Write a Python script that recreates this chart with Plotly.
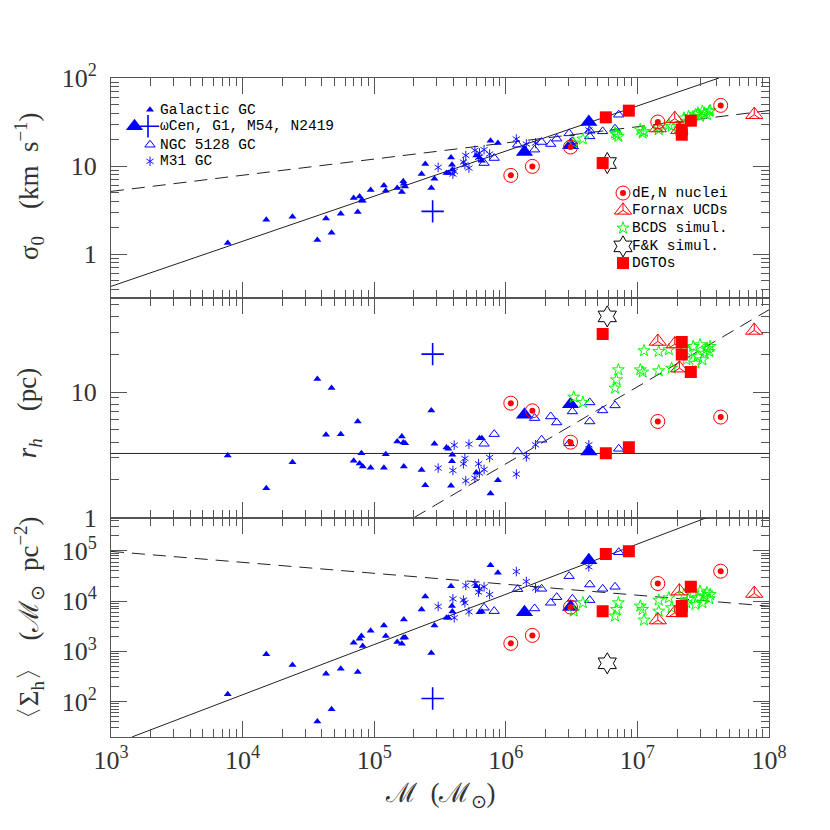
import numpy as np
import plotly.graph_objects as go

# ---------------- data (log10 values) ----------------
# Galactic globular clusters
gc_logM = [3.887, 4.180, 4.379, 4.568, 4.634, 4.676, 4.746, 4.844, 4.875, 4.889, 4.903, 4.913, 4.973, 5.074, 5.088,
           5.175, 5.210, 5.221, 5.235, 5.225, 5.360, 5.388, 5.434, 5.458, 5.549, 5.563, 5.584, 5.591, 5.594, 5.776,
           5.800, 5.818, 5.884, 5.940]
gc_logsig = [0.125, 0.390, 0.424, 0.159, 0.405, 0.242, 0.458, 0.636, 0.477, 0.655, 0.610, 0.606, 0.727, 0.780, 0.720,
             0.750, 0.705, 0.826, 0.769, 0.800, 0.909, 1.023, 0.750, 0.856, 0.920, 0.920, 1.098, 1.015, 0.958, 1.120,
             1.098, 1.061, 1.288, 1.261]
gc_logrh = [0.495, 0.234, 0.441, 1.104, 0.660, 1.032, 0.665, 0.452, 0.766, 0.431, 0.513, 0.407, 0.396, 0.396, 0.505,
            0.606, 0.646, 0.598, 0.593, 0.407, 0.378, 0.258, 0.854, 0.588, 0.559, 0.548, 0.253, 0.449, 0.500, 0.359,
            0.633, 0.633, 0.191, 0.298]
gc_logSig = [2.146, 2.940, 2.728, 1.603, 2.556, 1.848, 2.656, 3.172, 2.589, 3.252, 3.305, 3.106, 3.411, 3.517, 3.305,
             3.185, 3.152, 3.272, 3.278, 3.636, 3.834, 4.093, 2.967, 3.517, 3.669, 3.669, 4.298, 3.901, 3.795, 4.298,
             3.781, 3.788, 4.715, 4.563]

# omega Cen, G1, M54 (big triangles)
big_logM = [6.142, 6.492, 6.631]
big_logsig = [1.159, 1.235, 1.500]
big_logrh = [0.819, 0.904, 0.527]
big_logSig = [3.781, 3.881, 4.815]
# NGC 2419 (cross)
n2419_logM = [5.444]
n2419_logsig = [0.485]
n2419_logrh = [1.303]
n2419_logSig = [2.060]

# NGC 5128 GCs
n5128_logM = [5.835, 5.912, 6.090, 6.219, 6.272, 6.341, 6.387, 6.481, 6.506, 6.638, 6.638, 6.736, 6.830, 6.858]
n5128_logsig = [1.034, 1.091, 1.242, 1.186, 1.273, 1.250, 1.311, 1.371, 1.280, 1.337, 1.400, 1.394, 1.424, 1.583]
n5128_logrh = [0.588, 0.665, 0.527, 0.793, 0.620, 0.806, 0.758, 0.591, 0.846, 0.918, 0.766, 0.854, 0.894, 0.548]
n5128_logSig = [3.868, 3.801, 4.238, 3.854, 4.245, 3.967, 4.079, 4.497, 4.046, 4.020, 4.331, 4.245, 4.285, 4.974]

# M31 GCs
m31_logM = [5.486, 5.598, 5.608, 5.678, 5.689, 5.696, 5.720, 5.765, 5.793, 5.800, 5.835, 5.877, 6.080, 6.156, 6.226, 6.631]
m31_logsig = [0.985, 0.909, 0.939, 1.045, 1.015, 1.121, 0.977, 1.178, 1.098, 1.148, 1.186, 1.136, 1.307, 1.250, 1.261, 1.410]
m31_logrh = [0.394, 0.375, 0.577, 0.428, 0.471, 0.293, 0.585, 0.314, 0.428, 0.354, 0.383, 0.479, 0.346, 0.484, 0.580, 0.580]
m31_logSig = [3.894, 4.046, 3.669, 4.020, 3.967, 4.311, 3.788, 4.351, 4.179, 4.245, 4.285, 4.132, 4.589, 4.391, 4.258, 4.682]

# dE,N nuclei
den_logM = [6.038, 6.202, 6.492, 7.155, 7.633]
den_logsig = [0.894, 0.996, 1.216, 1.500, 1.689]
den_logrh = [0.912, 0.851, 0.601, 0.766, 0.801]
den_logSig = [3.159, 3.318, 3.881, 4.351, 4.596]

# Fornax UCDs
ucd_logM = [7.155, 7.284, 7.319, 7.888]
ucd_logsig = [1.432, 1.538, 1.413, 1.583]
ucd_logrh = [1.404, 1.383, 1.191, 1.492]
ucd_logSig = [3.623, 3.768, 4.199, 4.152]

# BCDS simulations
bcds_logM = [6.516, 6.586, 6.830, 6.841, 6.855, 7.022, 7.040, 7.050, 7.162, 7.162, 7.239, 7.260, 7.354, 7.372, 7.389,
             7.424, 7.441, 7.459, 7.476, 7.494, 7.511, 7.529, 7.546, 7.553]
bcds_logsig = [1.261, 1.307, 1.375, 1.356, 1.337, 1.413, 1.375, 1.394, 1.439, 1.413, 1.470, 1.451, 1.545, 1.508, 1.564,
               1.545, 1.583, 1.602, 1.564, 1.621, 1.602, 1.583, 1.621, 1.629]
bcds_logrh = [0.960, 0.918, 1.032, 1.098, 1.178, 1.178, 1.160, 1.330, 1.324, 1.170, 1.338, 1.191, 1.351, 1.258, 1.324,
              1.364, 1.231, 1.285, 1.378, 1.258, 1.311, 1.351, 1.324, 1.364]
bcds_logSig = [3.801, 3.967, 3.702, 3.834, 3.967, 3.901, 3.834, 3.623, 3.801, 4.020, 4.066, 3.868, 4.132, 3.967, 4.033,
               4.166, 3.934, 4.066, 4.199, 3.967, 4.099, 4.166, 4.046, 4.132]

# F&K simulation
fk_logM = [6.771]
fk_logsig = [1.034]
fk_logrh = [1.604]
fk_logSig = [2.762]

# DGTOs
dgto_logM = [6.736, 6.760, 6.935, 7.337, 7.337, 7.406]
dgto_logsig = [1.034, 1.553, 1.629, 1.413, 1.356, 1.515]
dgto_logrh = [1.463, 0.513, 0.561, 1.400, 1.300, 1.160]
dgto_logSig = [3.801, 4.940, 4.993, 3.901, 3.801, 4.285]

# reference relations (end points, log10)
sig_solid_logM, sig_solid_logv = [3.0, 7.62], [-0.367, 2.0]
sig_dash_logM, sig_dash_logv = [3.0, 8.0], [0.712, 1.63]
rh_solid_logM, rh_solid_logv = [3.0, 8.0], [0.511, 0.511]
rh_dash_logM, rh_dash_logv = [5.304, 8.0], [0.0, 1.657]
Sig_solid_logM, Sig_solid_logv = [3.16, 7.53], [1.296, 5.666]
Sig_dash_logM, Sig_dash_logv = [3.0, 8.0], [4.99, 3.90]

x_ticks = [1e3, 1e4, 1e5, 1e6, 1e7, 1e8]
x_ticktext = ["10<sup>3</sup>", "10<sup>4</sup>", "10<sup>5</sup>", "10<sup>6</sup>", "10<sup>7</sup>", "10<sup>8</sup>"]
sig_ticks, sig_ticktext = [1, 10, 100], ["1", "10", "10<sup>2</sup>"]
rh_ticks, rh_ticktext = [1, 10], ["1", "10"]
Sig_ticks = [1e2, 1e3, 1e4, 1e5]
Sig_ticktext = ["10<sup>2</sup>", "10<sup>3</sup>", "10<sup>4</sup>", "10<sup>5</sup>"]

# ---------------- figure ----------------
BLUE, RED, GREEN = "#0000ff", "#ff0000", "#00ff00"
fig = go.Figure()
panels = [("x", "y"), ("x2", "y2"), ("x3", "y3")]

M_GC = dict(symbol="triangle-up", size=7, color=BLUE)
M_BIG = dict(symbol="triangle-up", size=15, color=BLUE)
M_CROSS = dict(symbol="cross-thin-open", size=16, color=BLUE, line=dict(color=BLUE, width=1.6))
M_OPEN_TRI = dict(symbol="triangle-up-open", size=9, color=BLUE, line=dict(color=BLUE, width=1))
M_AST_A = dict(symbol="y-up-open", size=6, color=BLUE, line=dict(color=BLUE, width=0.9))
M_AST_B = dict(symbol="y-down-open", size=6, color=BLUE, line=dict(color=BLUE, width=0.9))
M_RING = dict(symbol="circle-open", size=14, color=RED, line=dict(color=RED, width=1))
M_DOT = dict(symbol="circle", size=6, color=RED)
M_UCD = dict(symbol="triangle-up-open", size=15, color=RED, line=dict(color=RED, width=1))
M_UCD_IN = dict(symbol="y-up-open", size=9.4, color=RED, line=dict(color=RED, width=1))
M_BCDS = dict(symbol="star-open", size=9, color=GREEN, line=dict(color=GREEN, width=1))
M_FK = dict(symbol="hexagram-open", size=16, color="black", line=dict(color="black", width=1))
M_DGTO = dict(symbol="square", size=12, color=RED)


def p(v):
    return 10 ** np.asarray(v, dtype=float)


def add_line(xs, ys, panel, dash):
    xa, ya = panels[panel]
    fig.add_trace(go.Scatter(x=p(xs), y=p(ys), mode="lines", xaxis=xa, yaxis=ya,
                             line=dict(color="#222", width=1, dash=dash), hoverinfo="skip"))


add_line(sig_solid_logM, sig_solid_logv, 0, "solid")
add_line(sig_dash_logM, sig_dash_logv, 0, "13px,8px")
add_line(rh_solid_logM, rh_solid_logv, 1, "solid")
add_line(rh_dash_logM, rh_dash_logv, 1, "13px,8px")
add_line(Sig_solid_logM, Sig_solid_logv, 2, "solid")
add_line(Sig_dash_logM, Sig_dash_logv, 2, "13px,8px")


def add_group(logM, vals3, *markers):
    for marker in markers:
        for (xa, ya), v in zip(panels, vals3):
            fig.add_trace(go.Scatter(x=p(logM), y=p(v), mode="markers", xaxis=xa, yaxis=ya,
                                     marker=marker, cliponaxis=True))


add_group(gc_logM, [gc_logsig, gc_logrh, gc_logSig], M_GC)
add_group(m31_logM, [m31_logsig, m31_logrh, m31_logSig], M_AST_A, M_AST_B)
add_group(n5128_logM, [n5128_logsig, n5128_logrh, n5128_logSig], M_OPEN_TRI)
add_group(big_logM, [big_logsig, big_logrh, big_logSig], M_BIG)
add_group(n2419_logM, [n2419_logsig, n2419_logrh, n2419_logSig], M_CROSS)
add_group(bcds_logM, [bcds_logsig, bcds_logrh, bcds_logSig], M_BCDS)
add_group(den_logM, [den_logsig, den_logrh, den_logSig], M_RING, M_DOT)
add_group(ucd_logM, [ucd_logsig, ucd_logrh, ucd_logSig], M_UCD, M_UCD_IN)
add_group(fk_logM, [fk_logsig, fk_logrh, fk_logSig], M_FK)
add_group(dgto_logM, [dgto_logsig, dgto_logrh, dgto_logSig], M_DGTO)

# ---------------- layout geometry (pixels) ----------------
L, R, T, B = 103, 761, 70, 728.7
TOP_RANGE = [-0.5, 2.0]


def lx(pix):  # pixel x -> mass value on the shared log axis (legend placement)
    return 10 ** (3 + (pix - L) * 5.0 / (R - L))


def ly(pix):  # pixel y inside top panel -> sigma value (legend placement)
    return 10 ** (TOP_RANGE[1] - (pix - T) * (TOP_RANGE[1] - TOP_RANGE[0]) / (290 - T))


leg_font = dict(family="Liberation Mono", size=14.5, color="black")


def leg_marker(x, y, *markers):
    for marker in markers:
        fig.add_trace(go.Scatter(x=[lx(x)], y=[ly(y)], mode="markers", xaxis="x", yaxis="y", marker=marker,
                                 cliponaxis=False, hoverinfo="skip"))


def leg_text(x, y, s):
    fig.add_annotation(x=np.log10(lx(x)), y=np.log10(ly(y)), xref="x", yref="y", text=s, showarrow=False,
                       xanchor="left", yanchor="middle", font=leg_font)


leg_marker(142, 101.7, M_GC)
leg_text(150, 101.7, "Galactic GC")
leg_marker(126.5, 118.3, M_BIG)
leg_marker(140, 118.3, M_CROSS)
leg_text(150, 118.3, "ωCen, G1, M54, N2419")
leg_marker(142, 136.7, M_OPEN_TRI)
leg_text(150, 136.7, "NGC 5128 GC")
leg_marker(142, 153.3, M_AST_A, M_AST_B)
leg_text(150, 153.3, "M31 GC")

leg_marker(615, 185, M_RING, M_DOT)
leg_text(622, 185, "dE,N nuclei")
leg_marker(615, 202.3, M_UCD, M_UCD_IN)
leg_text(622, 202.3, "Fornax UCDs")
leg_marker(615, 220, M_BCDS)
leg_text(622, 220, "BCDS simul.")
leg_marker(615, 238.3, M_FK)
leg_text(622, 238.3, "F&K simul.")
leg_marker(615, 255, M_DGTO)
leg_text(622, 255, "DGTOs")

# ---------------- axes ----------------
AX = "#555"
tick_font = dict(family="Liberation Serif", size=26, color="#333")


def minors(e0, e1):
    return [k * 10.0 ** e for e in range(e0, e1) for k in range(2, 10)]


def axis(rng, domain, anchor, minor_vals, **kw):
    d = dict(type="log", range=rng, domain=domain, anchor=anchor, showline=True, linecolor=AX, linewidth=1,
             mirror="allticks", ticks="inside", ticklen=16, tickwidth=1, tickcolor=AX, showgrid=False,
             zeroline=False, tickfont=tick_font,
             minor=dict(ticks="inside", ticklen=8, tickwidth=1, tickcolor=AX, showgrid=False, tickvals=minor_vals))
    d.update(kw)
    return d


hT = (B - 290) / (B - T)
hM = (B - 509.3) / (B - T)
fig.update_layout(
    width=830, height=830, margin=dict(l=L, r=830 - R, t=T, b=830 - B),
    plot_bgcolor="white", paper_bgcolor="white", showlegend=False,
    xaxis=axis([3, 8], [0, 1], "y", minors(3, 8), tickvals=x_ticks, showticklabels=False),
    xaxis2=axis([3, 8], [0, 1], "y2", minors(3, 8), tickvals=x_ticks, showticklabels=False),
    xaxis3=axis([3, 8], [0, 1], "y3", minors(3, 8), tickvals=x_ticks, ticktext=x_ticktext),
    yaxis=axis(TOP_RANGE, [hT, 1], "x", minors(-1, 2), tickvals=sig_ticks, ticktext=sig_ticktext,
               ticklabelstandoff=8),
    yaxis2=axis([0, 1.75], [hM, hT], "x2", minors(0, 2), tickvals=rh_ticks, ticktext=rh_ticktext,
                ticklabelstandoff=8),
    yaxis3=axis([1.295, 5.665], [0, hM], "x3", minors(1, 6), tickvals=Sig_ticks, ticktext=Sig_ticktext,
                ticklabelstandoff=8),
)

# axis titles
title_font = dict(family="Liberation Serif", size=27, color="#333")


def py(pix):
    return (B - pix) / (B - T)


def px(pix):
    return (pix - L) / (R - L)


def title(xp, yp, text, angle):
    fig.add_annotation(x=px(xp), y=py(yp), xref="paper", yref="paper", textangle=angle, showarrow=False,
                       xanchor="center", yanchor="middle", text=text, font=title_font)


title(21, 178, "σ<sub>0</sub>\u2003(km\u2002s<sup>−1</sup>)", -90)
title(21, 405, "<i>r<sub>h</sub></i>\u2003(pc)", -90)
title(21, 617, "〈Σ<sub>h</sub>〉\u2002(ℳ<sub>⊙</sub>\u2002pc<sup>−2</sup>)", -90)
title(432, 787, "ℳ\u2002(ℳ<sub>⊙</sub>)", 0)

fig.write_html("out.html")
